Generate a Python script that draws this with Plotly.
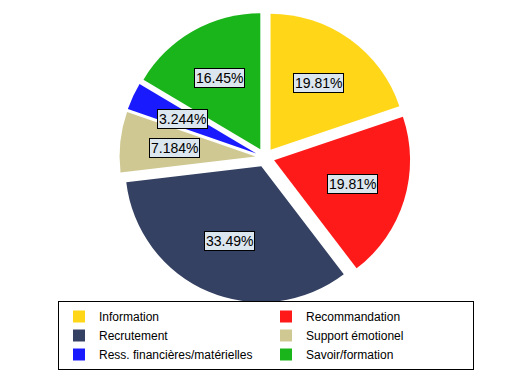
import math
import plotly.graph_objects as go

categories = ["Information", "Recommandation", "Recrutement",
              "Support émotionel", "Ress. financières/matérielles", "Savoir/formation"]
percentages = [19.81, 19.81, 33.49, 7.184, 3.244, 16.45]
colors = ["#FFD618", "#FF1A1A", "#344162", "#CFC892", "#1A1AFF", "#1AB51A"]

W, H = 508, 374
PULL = 0.07
dom_x = [0.2195, 0.7923]
dom_y = [0.2113, 0.9893]

fig = go.Figure(go.Pie(
    labels=categories,
    values=percentages,
    marker=dict(colors=colors, line=dict(width=0)),
    sort=False,
    direction="clockwise",
    rotation=0,
    pull=[PULL] * len(percentages),
    textinfo="none",
    textposition="none",
    hoverinfo="label+percent",
    domain=dict(x=dom_x, y=dom_y),
))

# label boxes placed along each slice's bisector (derived from the data)
cx = (dom_x[0] + dom_x[1]) / 2 * W
cy = (1 - (dom_y[0] + dom_y[1]) / 2) * H
full_r = min((dom_x[1] - dom_x[0]) * W, (dom_y[1] - dom_y[0]) * H) / 2
R = full_r / (1 + PULL)
total = sum(percentages)
cum = 0.0
annotations = []
for p in percentages:
    mid = (cum + p / 2) / total * 2 * math.pi
    cum += p
    d = (PULL + 0.6) * R
    px = cx + d * math.sin(mid)
    py = cy - d * math.cos(mid)
    annotations.append(dict(
        x=px / W, y=1 - py / H, xref="paper", yref="paper",
        xanchor="center", yanchor="middle",
        text=f"{p:.4g}%", showarrow=False,
        font=dict(family="Liberation Sans, Arial", size=14, color="black"),
        bgcolor="#DCE6EE", bordercolor="black", borderwidth=1, borderpad=1,
    ))

fig.update_layout(
    width=W, height=H,
    margin=dict(l=0, r=0, t=0, b=0),
    paper_bgcolor="white",
    plot_bgcolor="white",
    annotations=annotations,
    showlegend=True,
    legend=dict(
        orientation="h",
        x=50 / W, xanchor="left",
        y=12 / H, yanchor="bottom",
        entrywidth=162, entrywidthmode="pixels",
        bordercolor="black", borderwidth=1, bgcolor="white",
        font=dict(family="Liberation Sans, Arial", size=12, color="black"),
        traceorder="normal",
        itemsizing="constant",
    ),
)

fig.write_html("out.html")
